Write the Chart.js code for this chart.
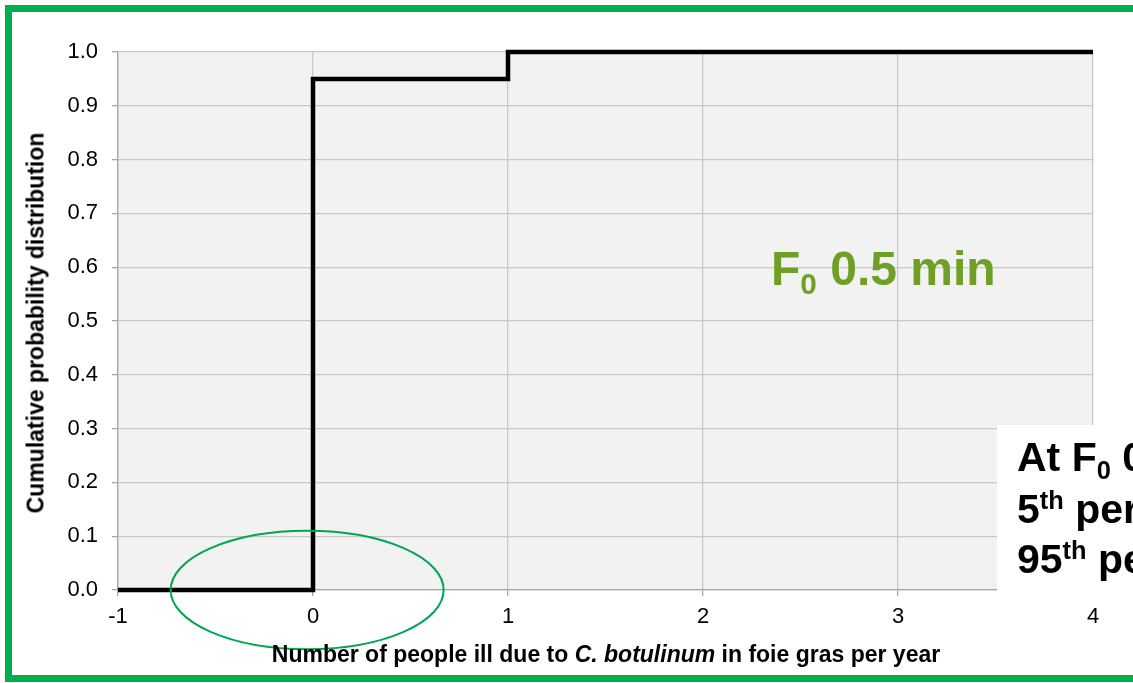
<!DOCTYPE html>
<html>
<head>
<meta charset="utf-8">
<script src="https://cdn.jsdelivr.net/npm/chart.js@4/dist/chart.umd.min.js"></script>
<style>
  body { margin: 0; width: 1133px; height: 683px; overflow: hidden; background: #fff; font-family: "Liberation Sans", Arial, sans-serif; }
  .frame { position: absolute; left: 5px; top: 5px; width: 1200px; height: 663px; border: 7px solid #00b050; }
  canvas { position: absolute; left: 0; top: 0; }
  .ytitle { position: absolute; left: 36px; top: 323px; transform: translate(-50%, -50%) rotate(-90deg); white-space: nowrap; font-weight: bold; font-size: 23px; color: #000; }
  .xtitle { position: absolute; left: 606px; top: 641px; transform: translateX(-50%); white-space: nowrap; font-weight: bold; font-size: 23px; color: #000; }
  .flabel { position: absolute; left: 771px; top: 241px; white-space: nowrap; font-weight: bold; font-size: 48px; color: #6f9f24; }
  .flabel sub, .box sub { font-size: 62%; vertical-align: -0.3em; }
  .box { position: absolute; left: 997px; top: 425px; width: 200px; height: 172px; background: #fff; }
  .box div { position: absolute; left: 20px; white-space: nowrap; font-weight: bold; font-size: 41px; color: #000; }
  .box sup { font-size: 62%; vertical-align: 0.55em; }
</style>
</head>
<body>
<div class="frame"></div>
<canvas id="cdfChart" width="1133" height="683"></canvas>
<div class="ytitle">Cumulative probability distribution</div>
<div class="xtitle">Number of people ill due to <i>C. botulinum</i> in foie gras per year</div>
<div class="flabel">F<sub>0</sub> 0.5 min</div>
<div class="box">
  <div style="top:9px">At F<sub>0</sub> 0.5 min</div>
  <div style="top:61px">5<sup>th</sup> percentile</div>
  <div style="top:111px">95<sup>th</sup> percentile</div>
</div>
<script>
// step CDF: number ill per year vs cumulative probability
const illCounts = [-1, 0, 1, 4];
const cumulativeProb = [0, 0.95, 1.0, 1.0];
const xTicks = [-1, 0, 1, 2, 3, 4];
const yTicks = [0, 0.1, 0.2, 0.3, 0.4, 0.5, 0.6, 0.7, 0.8, 0.9, 1.0];

// plot background
const plotBg = {
    id: 'plotBg',
    beforeDraw(chart) {
        const { ctx, chartArea } = chart;
        ctx.save();
        ctx.fillStyle = '#f2f2f2';
        ctx.fillRect(chartArea.left, chartArea.top, chartArea.right - chartArea.left, chartArea.bottom - chartArea.top);
        ctx.restore();
    }
};

// green ellipse highlighting the region around zero
const highlight = {
    id: 'highlight',
    afterDatasetsDraw(chart) {
        const { ctx, scales } = chart;
        const cx = scales.x.getPixelForValue(-0.03);
        const cy = scales.y.getPixelForValue(0);
        const rx = scales.x.getPixelForValue(0.67) - cx;
        const ry = cy - scales.y.getPixelForValue(0.11);
        ctx.save();
        ctx.strokeStyle = '#00a651';
        ctx.lineWidth = 2;
        ctx.beginPath();
        ctx.ellipse(cx, cy, rx, ry, 0, 0, Math.PI * 2);
        ctx.stroke();
        ctx.restore();
    }
};

const ctx = document.getElementById('cdfChart').getContext('2d');
new Chart(ctx, {
    type: 'scatter',
    data: {
        datasets: [{
            data: illCounts.map((x, i) => ({ x: x, y: cumulativeProb[i] })),
            showLine: true,
            stepped: 'before',
            borderColor: '#000',
            borderWidth: 4.5,
            pointRadius: 0,
            borderJoinStyle: 'miter',
            borderCapStyle: 'butt',
            clip: 6
        }]
    },
    options: {
        responsive: false,
        animation: false,
        layout: { padding: { left: 0, top: 52, right: 40, bottom: 0 } },
        plugins: { legend: { display: false }, tooltip: { enabled: false } },
        scales: {
            x: {
                type: 'linear',
                min: -1, max: 4,
                afterBuildTicks: s => { s.ticks = xTicks.map(v => ({ value: v })); },
                afterFit: s => { s.height = 93; },
                grid: { color: '#c8c8c8', lineWidth: 1.3, tickLength: 6, tickColor: '#a6a6a6' },
                border: { color: '#a6a6a6', width: 1.3 },
                ticks: { color: '#000', font: { family: 'Liberation Sans', size: 22 }, padding: 8 }
            },
            y: {
                min: 0, max: 1,
                afterBuildTicks: s => { s.ticks = yTicks.map(v => ({ value: v })); },
                afterFit: s => { s.width = 118; },
                grid: { color: '#c8c8c8', lineWidth: 1.3, tickLength: 6, tickColor: '#a6a6a6' },
                border: { color: '#a6a6a6', width: 1.3 },
                ticks: { color: '#000', font: { family: 'Liberation Sans', size: 22 }, padding: 14, callback: v => v.toFixed(1) }
            }
        }
    },
    plugins: [plotBg, highlight]
});
</script>
</body>
</html>
